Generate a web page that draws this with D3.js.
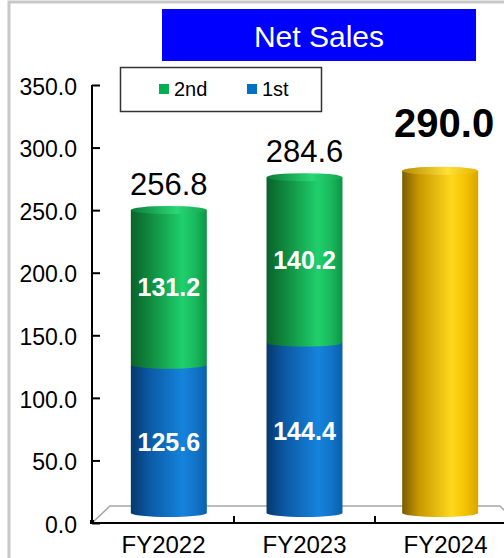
<!DOCTYPE html>
<html>
<head>
<meta charset="utf-8">
<script src="https://cdn.jsdelivr.net/npm/d3@7/dist/d3.min.js"></script>
<style>
  html, body { margin: 0; padding: 0; background: #fff; }
  svg { display: block; font-family: Arial, "Liberation Sans", sans-serif; }
</style>
</head>
<body>
<svg id="chart" width="504" height="558"></svg>
<script>
// Net sales by fiscal year (first half / second half), FY2024 is the full-year plan
const years = ["FY2022", "FY2023", "FY2024"];
const firstHalf = [125.6, 144.4, null];
const secondHalf = [131.2, 140.2, null];
const totals = [256.8, 284.6, 290.0];
const yTicks = [0, 50, 100, 150, 200, 250, 300, 350];
const legendItems = ["2nd", "1st"];
const title = "Net Sales";

const svg = d3.select("#chart");
const defs = svg.append("defs");

function hGradient(id, stops) {
  const g = defs.append("linearGradient").attr("id", id)
    .attr("x1", "0%").attr("x2", "100%").attr("y1", "0%").attr("y2", "0%");
  stops.forEach(([o, c]) => g.append("stop").attr("offset", o).attr("stop-color", c));
}
hGradient("gGreen", [["0%", "#0a622b"], ["25%", "#0f8a3e"], ["68%", "#1fd06c"], ["85%", "#19b85c"], ["100%", "#0e9446"]]);
hGradient("gGreenCap", [["0%", "#0d7c38"], ["60%", "#27d874"], ["100%", "#14a650"]]);
hGradient("gBlue", [["0%", "#07386d"], ["25%", "#0b5aa6"], ["68%", "#1583dc"], ["85%", "#1274c8"], ["100%", "#0a5fae"]]);
hGradient("gGold", [["0%", "#7a5c00"], ["22%", "#c89800"], ["65%", "#ffd81c"], ["85%", "#f2c000"], ["100%", "#d9a400"]]);
hGradient("gGoldCap", [["0%", "#b88c00"], ["60%", "#ffdf38"], ["100%", "#e8b400"]]);

// outer frame
svg.append("rect").attr("x", 9).attr("y", 2).attr("width", 520).attr("height", 580)
  .attr("fill", "none").attr("stroke", "#c8c8c8").attr("stroke-width", 3);

// value axis (front plane) and bar projection (mid depth)
const y = d3.scaleLinear().domain([0, 350]).range([523, 85]);
const yBar = d3.scaleLinear().domain([0, 350]).range([513, 100]);
const xFront = d3.scaleBand().domain(years).range([93, 516]);
const xBar = d3.scaleBand().domain(years).range([101, 508]).paddingInner(0.44).paddingOuter(0.22);

// floor outline
const floor = svg.append("g").attr("fill", "none").attr("stroke", "#a6a6a6").attr("stroke-width", 1.5);
floor.append("path").attr("d", "M92,523 L110,506 L500,506 L517,523");

// bars
const ry = 4;
function cylinder(g, x0, w, yTop, yBot, fill) {
  const rx = w / 2;
  g.append("path")
    .attr("d", `M${x0},${yTop} L${x0},${yBot} A${rx},${ry} 0 0 0 ${x0 + w},${yBot} L${x0 + w},${yTop} Z`)
    .attr("fill", fill);
}
function cap(g, x0, w, yc, fill) {
  g.append("ellipse").attr("cx", x0 + w / 2).attr("cy", yc)
    .attr("rx", w / 2).attr("ry", ry).attr("fill", fill);
}

const bars = svg.append("g");
years.forEach((yr, i) => {
  const x0 = xBar(yr), w = xBar.bandwidth();
  if (firstHalf[i] != null) {
    const ySplit = yBar(firstHalf[i]);
    const yTop = yBar(firstHalf[i] + secondHalf[i]);
    cylinder(bars, x0, w, ySplit, yBar(0), "url(#gBlue)");
    cylinder(bars, x0, w, yTop, ySplit, "url(#gGreen)");
    cap(bars, x0, w, yTop, "url(#gGreenCap)");
  } else {
    const yTop = yBar(totals[i]);
    cylinder(bars, x0, w, yTop, yBar(0), "url(#gGold)");
    cap(bars, x0, w, yTop, "url(#gGoldCap)");
  }
});

// segment labels
const segLabels = svg.append("g").attr("fill", "#fff").attr("font-weight", "bold")
  .attr("font-size", 25).attr("text-anchor", "middle");
years.forEach((yr, i) => {
  if (firstHalf[i] == null) return;
  const cx = xBar(yr) + xBar.bandwidth() / 2;
  const lo = firstHalf[i], hi = firstHalf[i] + secondHalf[i];
  segLabels.append("text").attr("x", cx).attr("y", (yBar(0) + yBar(lo)) / 2 + 12).text(lo.toFixed(1));
  segLabels.append("text").attr("x", cx).attr("y", (yBar(lo) + yBar(hi)) / 2 + 9).text(secondHalf[i].toFixed(1));
});

// total labels
years.forEach((yr, i) => {
  const cx = xBar(yr) + xBar.bandwidth() / 2;
  const plan = firstHalf[i] == null;
  svg.append("text")
    .attr("x", plan ? cx + 4 : cx)
    .attr("y", yBar(totals[i]) - (plan ? 34 : 15))
    .attr("text-anchor", "middle")
    .attr("font-size", plan ? 40 : 31)
    .attr("font-weight", plan ? "bold" : "normal")
    .attr("fill", "#000")
    .text(totals[i].toFixed(1));
});

// value axis
const yAxis = svg.append("g").attr("transform", "translate(92,0)")
  .call(d3.axisLeft(y).tickValues(yTicks).tickSize(-8).tickPadding(15)
    .tickFormat(d => d3.format(".1f")(d)));
yAxis.select(".domain").remove();
yAxis.selectAll(".tick line").attr("stroke", "#000").attr("stroke-width", 2);
yAxis.selectAll(".tick text").attr("font-size", 23).attr("fill", "#000")
  .attr("font-family", "Arial, 'Liberation Sans', sans-serif").attr("dy", "0.4em");
svg.append("line").attr("x1", 92).attr("x2", 92).attr("y1", 85).attr("y2", 524)
  .attr("stroke", "#000").attr("stroke-width", 2);

// category axis
svg.append("line").attr("x1", 91).attr("x2", 520).attr("y1", 523).attr("y2", 523)
  .attr("stroke", "#000").attr("stroke-width", 2);
svg.append("rect").attr("x", 90).attr("y", 520).attr("width", 4).attr("height", 4).attr("fill", "#000");
years.slice(1).forEach(yr => {
  svg.append("line").attr("x1", xFront(yr)).attr("x2", xFront(yr)).attr("y1", 516).attr("y2", 523)
    .attr("stroke", "#000").attr("stroke-width", 2);
});
svg.append("g").selectAll("text").data(years).join("text")
  .attr("x", d => xFront(d) + xFront.bandwidth() / 2)
  .attr("y", 553)
  .attr("text-anchor", "middle")
  .attr("font-size", 24)
  .attr("fill", "#000")
  .text(d => d);

// title
svg.append("rect").attr("x", 162).attr("y", 9).attr("width", 314).attr("height", 52).attr("fill", "#0000ff");
svg.append("text").attr("x", 319).attr("y", 47).attr("text-anchor", "middle")
  .attr("font-size", 30).attr("fill", "#fff").text(title);

// legend
svg.append("rect").attr("x", 120.5).attr("y", 67.5).attr("width", 201).attr("height", 44)
  .attr("fill", "#fff").attr("stroke", "#333").attr("stroke-width", 1.5);
const legendColors = ["#00b050", "#0070c0"];
const legendX = [159, 247];
legendItems.forEach((name, i) => {
  svg.append("rect").attr("x", legendX[i]).attr("y", 84).attr("width", 10).attr("height", 10)
    .attr("fill", legendColors[i]);
  svg.append("text").attr("x", legendX[i] + 15).attr("y", 96).attr("font-size", 20)
    .attr("fill", "#000").text(name);
});
</script>
</body>
</html>
